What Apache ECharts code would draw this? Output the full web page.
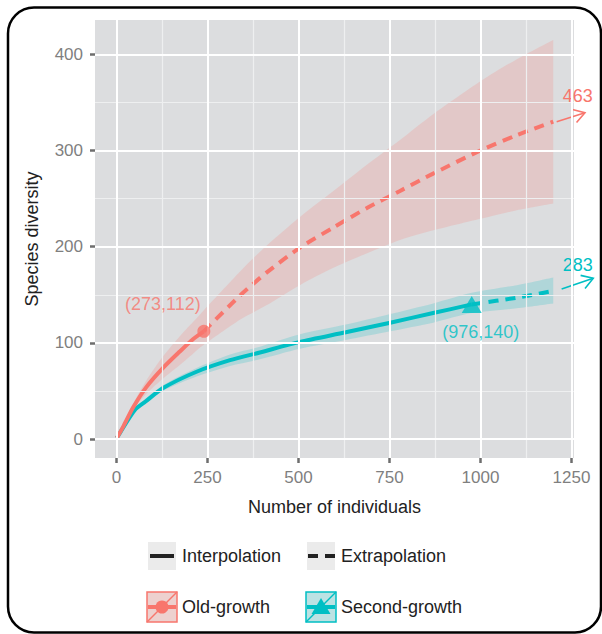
<!DOCTYPE html>
<html><head><meta charset="utf-8">
<script src="https://cdn.jsdelivr.net/npm/echarts@6/dist/echarts.min.js"></script>
<style>html,body{margin:0;padding:0;background:#fff}#c{width:602px;height:634px}</style>
</head><body><div id="c"></div>
<script>
// ---- data ----
const xTicks = [0, 250, 500, 750, 1000, 1250];
const xMinor = [125, 375, 625, 875, 1125];
const yTicks = [0, 100, 200, 300, 400];
const yMinor = [50, 150, 250, 350];

const oldInterp = [[1,1],[20,14],[46,33],[82,54],[128,74],[174,91],[211,104],[240,112]];
const oldExtrap = [[240,112],[339,149],[412,173],[504,199],[596,220],[687,240],[779,258],[870,276],[1000,300],[1100,316],[1200,330]];
const oldBand = [[1,1,1],[46,30,37],[82,47,61],[128,63,86],[174,77,107],[211,89,122],[240,98,134],[339,124,174],[412,139,201],[504,160,231],[596,178,258],[687,193,285],[779,207,311],[871,217,338],[1000,229,372],[1100,238,395],[1200,245,415]];

const secInterp = [[1,1],[50,30],[80,39],[128,53],[220,70],[312,82],[394,90],[504,101],[630,111],[752,121],[870,131],[976,140]];
const secExtrap = [[976,140],[1100,147],[1200,154]];
const secBand = [[1,1,1],[50,28.5,31.5],[128,50,56],[220,65,74],[312,76,88],[394,83,96],[504,94,109],[630,103,119],[752,112,130],[870,121,141],[976,131,152],[1100,136,160],[1200,141,168]];

const oldObserved = [240, 112];
const oldObservedLabel = '(273,112)';
const secObserved = [976, 140];
const secObservedLabel = '(976,140)';
const oldEnd = [1200, 330];
const oldEndLabel = '463';
const secEnd = [1200, 154];
const secEndLabel = '283';

const legendLineLabels = ['Interpolation', 'Extrapolation'];
const legendGroupLabels = ['Old-growth', 'Second-growth'];

// ---- styles ----
const RED = '#F8766D', TEAL = '#00BFC4';
const FONT = 'Liberation Sans, Arial, Helvetica, sans-serif';
const arrowGeom = {
  old: {start:[3.4,0], tip:[31.7,-9]},
  sec: {start:[8.4,-1.9], tip:[40,-12.6]},
  labelOffset: [24.5,-25.5]
};

// smooth path through pixel points (Catmull-Rom -> cubic Bezier)
function splineCmds(pts, first){
  let d = first ? 'M' + pts[0][0] + ',' + pts[0][1] : 'L' + pts[0][0] + ',' + pts[0][1];
  const k = 0.8 / 6;
  for (let i = 0; i < pts.length - 1; i++) {
    const p0 = pts[Math.max(i-1, 0)], p1 = pts[i], p2 = pts[i+1], p3 = pts[Math.min(i+2, pts.length-1)];
    const c1 = [p1[0] + (p2[0]-p0[0])*k, p1[1] + (p2[1]-p0[1])*k];
    const c2 = [p2[0] - (p3[0]-p1[0])*k, p2[1] - (p3[1]-p1[1])*k];
    d += ' C' + c1[0] + ',' + c1[1] + ' ' + c2[0] + ',' + c2[1] + ' ' + p2[0] + ',' + p2[1];
  }
  return d;
}
function bandSeries(rows, color){
  return {type:'custom', z:2, silent:true, data: rows.map(r=>[r[0], r[1], r[2]]),
    encode:{x:0, y:[1,2]},
    renderItem: function(params, api){
      if (params.dataIndex !== 0) return null;
      const lo = rows.map(r => api.coord([r[0], r[1]]));
      const hi = rows.map(r => api.coord([r[0], r[2]])).reverse();
      const d = splineCmds(lo, true) + ' ' + splineCmds(hi, false) + ' Z';
      return {type:'path', shape:{pathData:d}, style:{fill:color, opacity:0.2}};
    }};
}
function lineSeries(data, color, dashed){
  return {type:'line', z:3, data:data, showSymbol:false, symbol:'none', smooth:0.25, silent:true,
    lineStyle:{color:color, width:4, type: dashed ? [10,7] : 'solid', cap:'butt'}};
}
function arrowSeries(pt, label, color, geom){
  return {type:'custom', z:4, silent:true, clip:false, data:[pt],
    renderItem: function(params, api){
      const p = api.coord([api.value(0), api.value(1)]);
      const s = [p[0]+geom.start[0], p[1]+geom.start[1]];
      const t = [p[0]+geom.tip[0], p[1]+geom.tip[1]];
      const ang = Math.atan2(t[1]-s[1], t[0]-s[0]);
      const L = 13, w = 32*Math.PI/180;
      const w1 = [t[0]-L*Math.cos(ang-w), t[1]-L*Math.sin(ang-w)];
      const w2 = [t[0]-L*Math.cos(ang+w), t[1]-L*Math.sin(ang+w)];
      return {type:'group', children:[
        {type:'line', shape:{x1:s[0],y1:s[1],x2:t[0],y2:t[1]}, style:{stroke:color, lineWidth:1.6}},
        {type:'polyline', shape:{points:[w1,t,w2]}, style:{stroke:color, lineWidth:1.6, fill:null}},
        {type:'text', x:p[0]+arrowGeom.labelOffset[0], y:p[1]+arrowGeom.labelOffset[1],
          style:{text:label, fill:color, font:'18px '+FONT, align:'center', verticalAlign:'middle'}}
      ]};
    }};
}
function gridSeries(xs, ys, color, width){
  return {type:'line', z:1, silent:true, data:[],
    markLine:{silent:true, symbol:'none', animation:false, label:{show:false},
      lineStyle:{color:color, width:width, type:'solid'},
      emphasis:{disabled:true},
      data: xs.map(v=>({xAxis:v})).concat(ys.map(v=>({yAxis:v})))}};
}

const chart = echarts.init(document.getElementById('c'), null, {renderer:'svg'});

const L = {row1:556, row2:607, k1:148, k2:307, t1:182, t2:341};
const legendGraphics = [
  {type:'rect', shape:{x:L.k1, y:L.row1-14, width:28, height:28}, style:{fill:'#ebebeb'}},
  {type:'line', shape:{x1:L.k1+2, y1:L.row1, x2:L.k1+26, y2:L.row1}, style:{stroke:'#222', lineWidth:4}},
  {type:'text', x:L.t1, y:L.row1, style:{text:legendLineLabels[0], fill:'#222', font:'18px '+FONT, verticalAlign:'middle'}},
  {type:'rect', shape:{x:L.k2, y:L.row1-14, width:28, height:28}, style:{fill:'#ebebeb'}},
  {type:'line', shape:{x1:L.k2+1, y1:L.row1, x2:L.k2+28, y2:L.row1}, style:{stroke:'#222', lineWidth:4, lineDash:[10,7]}},
  {type:'text', x:L.t2, y:L.row1, style:{text:legendLineLabels[1], fill:'#222', font:'18px '+FONT, verticalAlign:'middle'}},

  {type:'rect', shape:{x:L.k1-1, y:L.row2-15, width:30, height:30}, style:{fill:'#ebebeb'}},
  {type:'rect', shape:{x:L.k1-1, y:L.row2-15, width:30, height:30}, style:{fill:'rgba(248,118,109,0.22)', stroke:RED, lineWidth:1.5}},
  {type:'line', shape:{x1:L.k1-1, y1:L.row2+15, x2:L.k1+29, y2:L.row2-15}, style:{stroke:RED, lineWidth:1.5}},
  {type:'line', shape:{x1:L.k1, y1:L.row2, x2:L.k1+28, y2:L.row2}, style:{stroke:RED, lineWidth:4}},
  {type:'circle', shape:{cx:L.k1+14, cy:L.row2, r:6.5}, style:{fill:RED}},
  {type:'text', x:L.t1, y:L.row2, style:{text:legendGroupLabels[0], fill:'#222', font:'18px '+FONT, verticalAlign:'middle'}},

  {type:'rect', shape:{x:L.k2-1, y:L.row2-15, width:30, height:30}, style:{fill:'#ebebeb'}},
  {type:'rect', shape:{x:L.k2-1, y:L.row2-15, width:30, height:30}, style:{fill:'rgba(0,191,196,0.2)', stroke:TEAL, lineWidth:1.5}},
  {type:'line', shape:{x1:L.k2-1, y1:L.row2+15, x2:L.k2+29, y2:L.row2-15}, style:{stroke:TEAL, lineWidth:1.5}},
  {type:'line', shape:{x1:L.k2, y1:L.row2, x2:L.k2+28, y2:L.row2}, style:{stroke:TEAL, lineWidth:4}},
  {type:'polygon', shape:{points:[[L.k2+14, L.row2-9],[L.k2+23.5, L.row2+7],[L.k2+4.5, L.row2+7]]}, style:{fill:TEAL}},
  {type:'text', x:L.t2, y:L.row2, style:{text:legendGroupLabels[1], fill:'#222', font:'18px '+FONT, verticalAlign:'middle'}},

  {type:'rect', shape:{x:8, y:7.5, width:593, height:625, r:26}, style:{fill:'none', stroke:'#000', lineWidth:2.5}}
];

const option = {
  animation:false,
  backgroundColor:'#fff',
  grid:{left:95, top:20, width:479, height:438, show:true, backgroundColor:'#dcdddf', borderWidth:0},
  xAxis:{type:'value', min:-59, max:1257,
    splitLine:{show:false}, axisLine:{show:false, onZero:false},
    axisTick:{show:true, customValues:xTicks, length:5, lineStyle:{color:'#6e6e6e', width:2.5}},
    axisLabel:{customValues:xTicks, formatter: v => String(v), color:'#7f7f7f', fontSize:17, fontFamily:FONT, margin:11},
    name:'Number of individuals', nameLocation:'middle', nameGap:40,
    nameTextStyle:{color:'#222', fontSize:18, fontFamily:FONT}},
  yAxis:{type:'value', min:-19.7, max:435.7,
    splitLine:{show:false}, axisLine:{show:false, onZero:false},
    axisTick:{show:true, customValues:yTicks, length:5, lineStyle:{color:'#6e6e6e', width:2.5}},
    axisLabel:{customValues:yTicks, formatter: v => String(v), color:'#7f7f7f', fontSize:17, fontFamily:FONT, margin:12},
    name:'Species diversity', nameLocation:'middle', nameGap:54,
    nameTextStyle:{color:'#222', fontSize:18, fontFamily:FONT}},
  graphic: legendGraphics,
  series:[
    gridSeries(xMinor, yMinor, '#eeeff0', 1.2),
    gridSeries(xTicks, yTicks, '#ffffff', 2),
    bandSeries(oldBand, RED),
    bandSeries(secBand, TEAL),
    lineSeries(secInterp, TEAL, false),
    lineSeries(secExtrap, TEAL, true),
    lineSeries(oldInterp, RED, false),
    lineSeries(oldExtrap, RED, true),
    {type:'scatter', z:5, silent:true, data:[oldObserved], symbol:'circle', symbolSize:13,
      itemStyle:{color:RED},
      label:{show:true, formatter:oldObservedLabel, position:'inside', offset:[-41,-27], color:RED, fontSize:18, fontFamily:FONT}},
    {type:'scatter', z:5, silent:true, data:[secObserved], symbol:'triangle', symbolSize:[20,17],
      itemStyle:{color:TEAL},
      label:{show:true, formatter:secObservedLabel, position:'inside', offset:[9,28], color:TEAL, fontSize:18, fontFamily:FONT}},
    arrowSeries(oldEnd, oldEndLabel, RED, arrowGeom.old),
    arrowSeries(secEnd, secEndLabel, TEAL, arrowGeom.sec)
  ]
};
chart.setOption(option);
</script>
</body></html>
